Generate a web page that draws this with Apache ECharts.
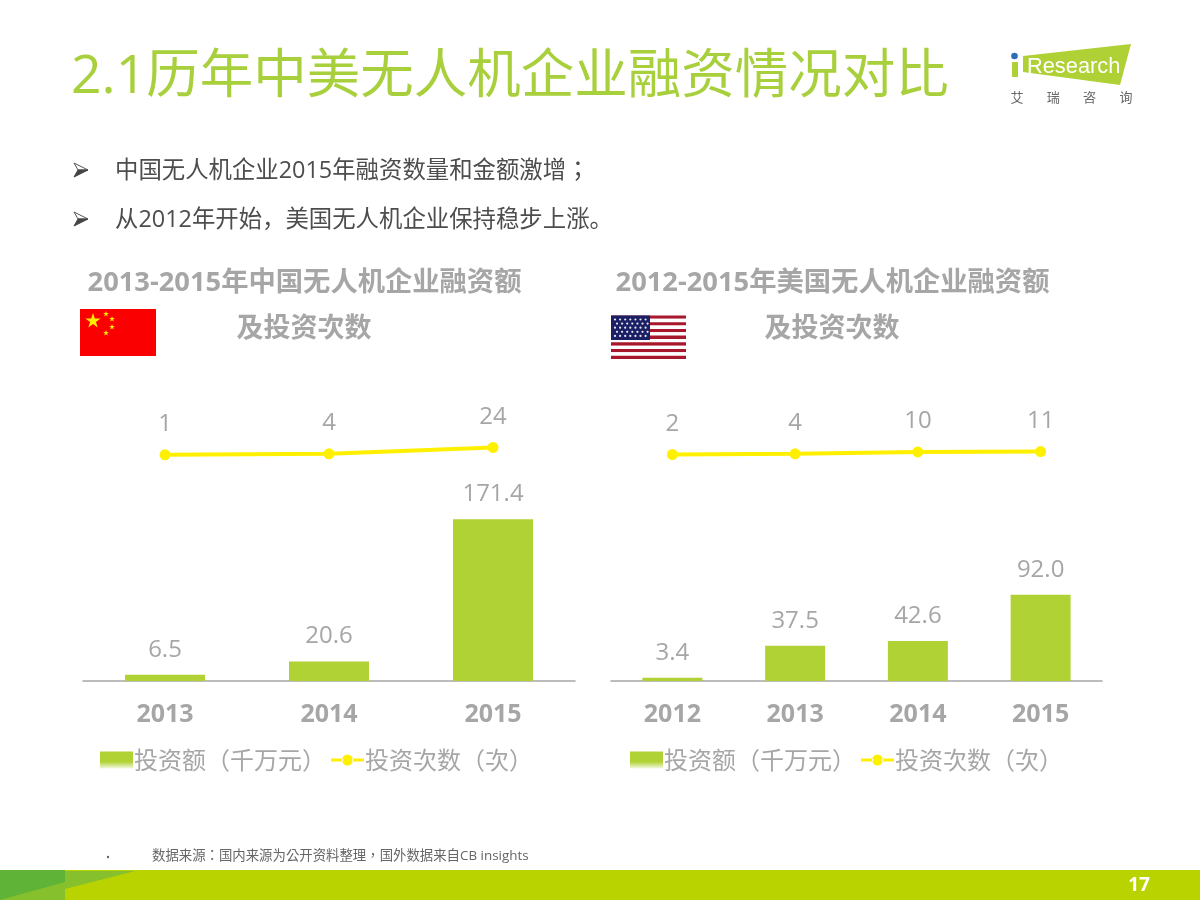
<!DOCTYPE html>
<html><head><meta charset="utf-8">
<style>html,body{margin:0;padding:0;background:#fff}#c{width:1200px;height:900px}</style>
<script src="https://cdn.jsdelivr.net/npm/echarts@6/dist/echarts.min.js"></script>
</head><body><div id="c"></div>
<script>
const cnYears = ['2013','2014','2015'];
const cnAmount = [6.5,20.6,171.4];
const cnCount = [1,4,24];
const usYears = ['2012','2013','2014','2015'];
const usAmount = [3.4,37.5,42.6,92.0];
const usCount = [2,4,10,11];
const amountName = '投资额（千万元）';
const countName = '投资次数（次）';
const FONT = '"Open Sans","Noto Sans CJK TC",sans-serif';
const FONT_SC = '"Open Sans","Noto Sans CJK SC",sans-serif';
const CJK = '"Noto Sans CJK TC","Open Sans",sans-serif';
const GRAY = '#a6a6a6', GREEN = '#b0d235', YEL = '#fff000';

function starPts(cx,cy,r,rot){const p=[];for(let i=0;i<10;i++){const a=(rot||0)-Math.PI/2+i*Math.PI/5;const q=i%2?r*0.382:r;p.push([cx+q*Math.cos(a),cy+q*Math.sin(a)]);}return p;}
const g = [];
const txt=(x,y,text,size,fill,weight,align,family)=>g.push({type:'text',x,y,style:{text,fontSize:size,fill,fontWeight:weight||'normal',fontFamily:family||CJK,textAlign:align||'left',textVerticalAlign:'middle'}});
const rect=(x,y,w,h,fill)=>g.push({type:'rect',shape:{x,y,width:w,height:h},style:{fill}});
// footer
g.push({type:'rect',shape:{x:0,y:870,width:1200,height:30},style:{fill:'#b9d300'}});
g.push({type:'rect',shape:{x:0,y:870,width:65,height:30},style:{fill:'#5fb336'}});
g.push({type:'polygon',shape:{points:[[65,871],[135,871],[65,889]]},style:{fill:'#86c02c'}});
g.push({type:'polygon',shape:{points:[[0,900],[65,882],[65,900]]},style:{fill:'#86c02c'}});
txt(1139,886,'17',19,'#ffffff','bold','center',FONT);
// heading
txt(71,78,'2.1历年中美无人机企业融资情况对比',53.5,'#a8d03c','normal','left',FONT);
// bullets
[[170,'中国无人机企业2015年融资数量和金额激增；',FONT],[219,'从2012年开始，美国无人机企业保持稳步上涨。',FONT_SC]].forEach(([y,t,f])=>{
  g.push({type:'polygon',shape:{points:[[74,y-7],[88,y],[78,y]]},style:{fill:'#fff',stroke:'#555',lineWidth:1}});
  g.push({type:'polygon',shape:{points:[[74,y+7],[88,y],[78,y]]},style:{fill:'#444',stroke:'#444',lineWidth:1}});
  txt(115,y+1,t,23.4,'#4d4d4d','normal','left',f);
});
// sub titles
txt(304.5,283,'2013-2015年中国无人机企业融资额',27.3,GRAY,'bold','center',FONT);
txt(304,329,'及投资次数',27,GRAY,'bold','center',FONT);
txt(832.5,283,'2012-2015年美国无人机企业融资额',27.3,GRAY,'bold','center',FONT);
txt(832,329,'及投资次数',27,GRAY,'bold','center',FONT);
// China flag
rect(80,309,76,47,'#fb0000');
g.push({type:'polygon',shape:{points:starPts(93,321,8)},style:{fill:'#ffee00'}});
[[106,314],[112,319],[112,327],[106,333]].forEach(([x,y])=>g.push({type:'polygon',shape:{points:starPts(x,y,3)},style:{fill:'#ffee00'}}));
// US flag
for(let i=0;i<13;i++){rect(611,315.5+i*3.35,75,3.35,i%2?'#ffffff':'#a8182c');}
rect(611,315.5,39,24.5,'#1b1f63');
for(let r=0;r<5;r++)for(let c=0;c<7;c++){g.push({type:'circle',shape:{cx:615+c*5.1+(r%2?2:0),cy:319.5+r*4.1,r:1.1},style:{fill:'#e8e8f4'}});}
// source
g.push({type:'circle',shape:{cx:108,cy:857,r:1.2},style:{fill:'#666'}});
txt(152,856,'数据来源：国内来源为公开资料整理，国外数据来自CB insights',13.4,'#666666','normal','left',FONT);
// logo
g.push({type:'polygon',shape:{points:[[1023,56],[1131,44],[1120,85],[1023,72]]},style:{fill:'#afd135'}});
g.push({type:'rect',shape:{x:1012,y:62,width:6,height:15},style:{fill:'#afd135'}});
g.push({type:'circle',shape:{cx:1014.5,cy:56,r:3.3},style:{fill:'#2f6db5'}});
txt(1027,67,'Research',21.8,'#ffffff','normal','left','"Liberation Sans",sans-serif');
['艾','瑞','咨','询'].forEach((t,i)=>txt(1017+i*36.3,97,t,13,'#666666','normal','center',CJK));

const axisX=(i,data)=>({type:'category',gridIndex:i,data,axisTick:{show:false},
  axisLine:{lineStyle:{color:'#a6a6a6',width:1.5}},
  axisLabel:{color:GRAY,fontSize:25,fontWeight:'bold',fontFamily:FONT,margin:21}});
const yHidden=(i,min,max)=>({type:'value',gridIndex:i,min,max,show:false,splitLine:{show:false}});
const barS=(data,xi,yi,w)=>({name:amountName,type:'bar',xAxisIndex:xi,yAxisIndex:yi,data,barWidth:w,
  itemStyle:{color:GREEN},label:{show:true,position:'top',distance:13,color:GRAY,fontSize:24,fontFamily:FONT,formatter:p=>p.value.toFixed(1)}});
const lineS=(data,xi,yi)=>({name:countName,type:'line',xAxisIndex:xi,yAxisIndex:yi,data,symbol:'circle',symbolSize:11,
  lineStyle:{color:YEL,width:4},itemStyle:{color:YEL},label:{show:true,position:'top',distance:13,color:GRAY,fontSize:24,fontFamily:FONT}});
const fade={type:'linear',x:0,y:0,x2:0,y2:1,colorStops:[{offset:0,color:GREEN},{offset:0.6,color:GREEN},{offset:1,color:'rgba(176,210,53,0.15)'}]};
const lineIcon='path://M0 3.5h12v3h-12z M21 3.5h12v3h-12z M11 5a5.5 5.5 0 1 0 11 0a5.5 5.5 0 1 0 -11 0z';
const legend=(left)=>({left,top:743,itemWidth:33,itemHeight:17,itemGap:5,
  data:[{name:amountName,icon:'rect',itemStyle:{color:fade}},{name:countName,icon:lineIcon,itemStyle:{color:YEL}}],
  selectedMode:false,textStyle:{color:GRAY,fontSize:24,fontFamily:CJK,padding:[0,0,0,-4]}});

const chart = echarts.init(document.getElementById('c'),null,{renderer:'canvas'});
chart.setOption({
  animation:false,
  backgroundColor:'#fff',
  grid:[{left:83,width:492,top:379,height:302},{left:611,width:491,top:379,height:302}],
  xAxis:[axisX(0,cnYears),axisX(1,usYears)],
  yAxis:[yHidden(0,0,320),yHidden(0,-706,238),yHidden(1,0,322),yHidden(1,-706,238)],
  legend:[legend(95),legend(625)],
  series:[barS(cnAmount,0,0,80),lineS(cnCount,0,1),barS(usAmount,1,2,60),lineS(usCount,1,3)],
  graphic:{elements:g}
});
</script></body></html>
